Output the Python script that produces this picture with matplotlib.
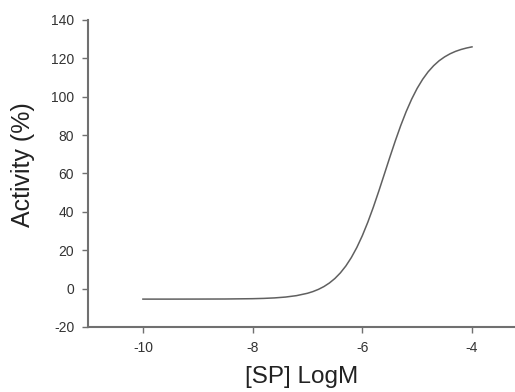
import matplotlib.pyplot as plt

# dose-response curve
log_conc = [-10.0, -9.5, -9.0, -8.5, -8.0, -7.8, -7.6, -7.4, -7.2, -7.0, -6.9, -6.8,
            -6.7, -6.6, -6.5, -6.4, -6.3, -6.2, -6.1, -6.0, -5.9, -5.8, -5.7, -5.6,
            -5.5, -5.4, -5.3, -5.2, -5.1, -5.0, -4.9, -4.8, -4.7, -4.6, -4.5, -4.4,
            -4.3, -4.2, -4.1, -4.0]
activity = [-5.50, -5.50, -5.48, -5.44, -5.28, -5.13, -4.87, -4.43, -3.69, -2.46, -1.57, -0.42,
            1.04, 2.90, 5.24, 8.17, 11.77, 16.16, 21.40, 27.54, 34.55, 42.33, 50.73, 59.49,
            68.30, 76.85, 84.92, 92.26, 98.75, 104.36, 109.07, 112.98, 116.16, 118.74, 120.76, 122.38,
            123.65, 124.63, 125.39, 125.99]

x_ticks = [-10, -8, -6, -4]
y_ticks = [-20, 0, 20, 40, 60, 80, 100, 120, 140]

plt.rcParams['font.family'] = ['Liberation Sans', 'DejaVu Sans']

fig = plt.figure(figsize=(5.15, 3.92), dpi=100)
ax = fig.add_axes([0.171, 0.166, 0.852, 0.783])

ax.plot(log_conc, activity, color='#606060', linewidth=1.1)

ax.set_xlim(-11, -3)
ax.set_ylim(-20, 140)
ax.set_xticks(x_ticks)
ax.set_yticks(y_ticks)
ax.set_xticklabels([str(t) for t in x_ticks])
ax.set_yticklabels([str(t) for t in y_ticks])

for side in ['top', 'right']:
    ax.spines[side].set_visible(False)
for side in ['left', 'bottom']:
    ax.spines[side].set_color('#707070')
    ax.spines[side].set_linewidth(1.5)

ax.tick_params(direction='out', length=4, width=1, color='#707070',
               labelsize=10, labelcolor='#333333', pad=6)
ax.tick_params(axis='x', pad=6)

ax.set_xlabel('[SP] LogM', fontsize=17.5, color='#222222')
ax.set_ylabel('Activity (%)', fontsize=18, color='#222222')
ax.xaxis.set_label_coords(0.4866, -0.127)
ax.yaxis.set_label_coords(-0.121, 0.528)

fig.savefig('out.png', dpi=100)
